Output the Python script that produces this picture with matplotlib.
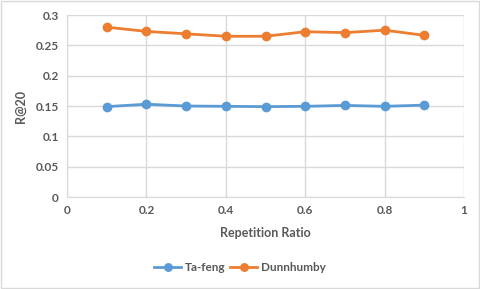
import numpy as np
import matplotlib.pyplot as plt

# dados
ratio = [0.1, 0.2, 0.3, 0.4, 0.5, 0.6, 0.7, 0.8, 0.9]
tafeng = [0.149, 0.153, 0.150, 0.1495, 0.149, 0.1495, 0.151, 0.1495, 0.1515]
dunnhumby = [0.280, 0.273, 0.269, 0.265, 0.265, 0.2725, 0.271, 0.275, 0.2665]

xticks = [0, 0.2, 0.4, 0.6, 0.8, 1]
xticklabels = ["0", "0.2", "0.4", "0.6", "0.8", "1"]
yticks = [0, 0.05, 0.1, 0.15, 0.2, 0.25, 0.3]
yticklabels = ["0", "0.05", "0.1", "0.15", "0.2", "0.25", "0.3"]

cor_texto = '#595959'
cor_grade = '#D9D9D9'

plt.rcParams['font.family'] = ['Lato', 'DejaVu Sans']

fig = plt.figure(figsize=(4.8, 2.89), dpi=100)
ax = fig.add_axes([0.1396, 0.3183, 0.8274, 0.6297])

ax.plot(ratio, tafeng, color='#5B9BD5', lw=2, marker='o', ms=6, label='Ta-feng')
ax.plot(ratio, dunnhumby, color='#ED7D31', lw=2, marker='o', ms=6, label='Dunnhumby')

ax.set_xlim(0, 1)
ax.set_ylim(0, 0.3)
ax.set_xticks(xticks, xticklabels)
ax.set_yticks(yticks, yticklabels)
ax.grid(color=cor_grade, lw=1)
ax.set_axisbelow(True)
for s in ['top', 'right']:
    ax.spines[s].set_visible(False)
for s in ['left', 'bottom']:
    ax.spines[s].set_color(cor_grade)
ax.tick_params(length=0, colors=cor_texto, labelsize=8.5, pad=6)
for t in ax.get_xticklabels() + ax.get_yticklabels():
    t.set_fontweight('bold')

ax.set_xlabel('Repetition Ratio', color=cor_texto, fontsize=9, fontweight='bold', labelpad=8)
ax.set_ylabel('R@20', color=cor_texto, fontsize=9, fontweight='bold', labelpad=6)

leg = fig.legend(loc='center', bbox_to_anchor=(0.5, 0.075), ncol=2, frameon=False,
                 fontsize=8.5, handlelength=2.3, columnspacing=0.4, handletextpad=0.3,
                 markerscale=0.9)
for t in leg.get_texts():
    t.set_color(cor_texto)
    t.set_fontweight('bold')

# moldura cinza da figura
fig.patches.append(plt.Rectangle((0.002, 0.003), 0.996, 0.994, transform=fig.transFigure,
                                 fill=False, edgecolor='#D9D9D9', lw=1))

plt.savefig('out.png', dpi=100)
